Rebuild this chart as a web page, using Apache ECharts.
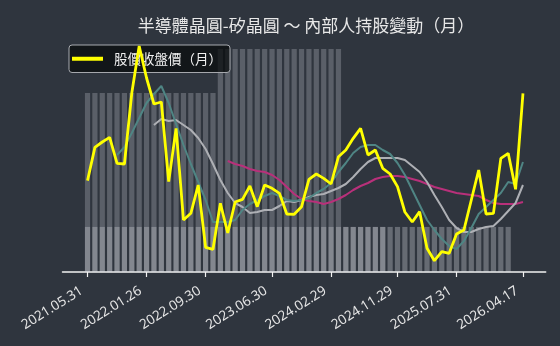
<!DOCTYPE html>
<html>
<head>
<meta charset="utf-8">
<script src="https://cdn.jsdelivr.net/npm/echarts@6/dist/echarts.min.js"></script>
<style>html,body{margin:0;padding:0;background:#2f353e;}#c{width:560px;height:346px;}</style>
</head>
<body>
<div id="c"></div>
<script>
// tick positions (month index) and their labels
const tickIndex = [0, 8, 16, 25, 33, 42, 50, 59];
const tickLabels = ['2021.05.31','2022.01.26','2022.09.30','2023.06.30','2024.02.29','2024.11.29','2025.07.31','2026.04.17'];

// monthly closing price (index 0..59)
const price = [374,474,490,504,426,424,637,778,682,604,610,371,531,256,276,361,174,168,306,217,
               310,318,358,296,361,351,336,274,273,296,378,394,381,364,446,466,501,531,451,466,
               411,394,356,280,250,281,171,134,161,156,214,226,316,406,274,276,441,456,348,636];
// moving averages (null = not drawn)
const ma5 = [null,null,null,null,451,475,517,562,607,634,658,607,544,481,424,370,316,250,250,250,
             256,286,304,316,328,337,328,316,313,316,322,337,349,367,400,427,457,475,481,481,
             466,454,427,391,346,301,256,226,199,178,169,193,232,274,295,316,337,370,364,430];
const ma10 = [null,null,null,null,null,null,null,null,null,541,559,553,556,541,526,502,469,424,376,337,
              307,295,277,280,286,286,298,313,310,316,325,331,334,343,352,364,385,409,430,442,
              442,442,442,436,418,400,370,331,295,256,232,220,220,229,235,238,259,283,307,361];
const ma20 = [null,null,null,null,null,null,null,null,null,null,null,null,null,null,null,null,null,null,null,433,
              424,418,409,403,400,391,376,355,334,319,313,310,304,310,319,331,346,358,367,379,
              385,388,388,385,379,373,364,355,349,343,337,334,331,328,316,307,304,304,304,310];
// insider holdings (%) : large holders and directors
const holdTotal = [38.9,38.9,38.9,38.9,38.9,38.9,38.9,38.9,38.9,38.9,38.9,38.9,38.9,38.9,38.9,38.9,38.9,38.9,
                   48.5,48.5,48.5,48.5,48.5,48.5,48.5,48.5,48.5,48.5,48.5,48.5,48.5,48.5,48.5,48.5,48.5,
                   9.8,9.8,9.8,9.8,9.8,9.8];
const holdDirector = [9.8,9.8,9.8,9.8,9.8,9.8,9.8,9.8,9.8,9.8,9.8,9.8,9.8,9.8,9.8,9.8,9.8,9.8,9.8,9.8,
                      9.8,9.8,9.8,9.8,9.8,9.8,9.8,9.8,9.8,9.8,9.8,9.8,9.8,9.8,9.8,9.8,9.8,9.8,9.8,9.8,
                      9.8,9.8,9.8,9.8,9.8,9.8,9.8,9.8,9.8,9.8,9.8,9.8,9.8,9.8,9.8,9.8,9.8,9.8];

const pairs = arr => arr.map((v, i) => [i, v]);
const labelMap = {};
tickIndex.forEach((t, k) => labelMap[t] = tickLabels[k]);

const chart = echarts.init(document.getElementById('c'));
chart.setOption({
  backgroundColor: '#2f353e',
  animation: false,
  title: {
    text: '半導體晶圓-矽晶圓 ～ 內部人持股變動（月）',
    left: 306, top: 17, textAlign: 'center', padding: 0,
    textStyle: { color: '#e8e8e8', fontSize: 17, fontWeight: 'normal', fontFamily: 'Noto Sans CJK TC' }
  },
  legend: {
    data: ['股價收盤價（月）'],
    left: 69, top: 45,
    icon: 'rect', itemWidth: 31, itemHeight: 4, itemGap: 10,
    padding: [7, 8, 7, 3],
    backgroundColor: 'rgba(10,12,14,0.75)',
    borderColor: '#a8abb0', borderWidth: 1, borderRadius: 3,
    textStyle: { color: '#f0f0f0', fontSize: 13.5, fontFamily: 'Noto Sans CJK TC', padding: [0, 0, 0, 6] }
  },
  grid: { left: 62.5, right: 14.3, top: 42, bottom: 74 },
  xAxis: {
    type: 'value', min: -3.39, max: 62.08,
    axisLine: { show: true, lineStyle: { color: '#f2f2f2', width: 1.5 } },
    axisTick: { show: true, customValues: tickIndex, length: 5, lineStyle: { color: '#f2f2f2', width: 1.2 } },
    axisLabel: {
      customValues: tickIndex, rotate: 32, color: '#e6e6e6', fontSize: 13.5, margin: 14,
      padding: [0, 7, 0, 0],
      fontFamily: 'Noto Sans',
      formatter: v => labelMap[Math.round(v)] || ''
    },
    splitLine: { show: false }
  },
  yAxis: [
    { type: 'value', min: 100, max: 790, show: false, splitLine: { show: false } },
    { type: 'value', min: 0, max: 50, show: false, splitLine: { show: false } }
  ],
  series: [
    { name: '大股東持股', type: 'bar', yAxisIndex: 1, data: pairs(holdTotal), barWidth: 5.2,
      itemStyle: { color: 'rgba(215,218,224,0.26)' }, z: 1, silent: true },
    { name: '董監持股', type: 'bar', yAxisIndex: 1, data: pairs(holdDirector), barWidth: 5.2, barGap: '-100%',
      itemStyle: { color: 'rgba(215,218,224,0.33)' }, z: 1, silent: true },
    { name: 'MA20', type: 'line', data: pairs(ma20), showSymbol: false, symbol: 'none',
      lineStyle: { color: '#b8307a', width: 2 }, z: 3 },
    { name: 'MA10', type: 'line', data: pairs(ma10), showSymbol: false, symbol: 'none',
      lineStyle: { color: '#aeb0b5', width: 2 }, z: 3 },
    { name: 'MA5', type: 'line', data: pairs(ma5), showSymbol: false, symbol: 'none',
      lineStyle: { color: '#4f8584', width: 2 }, z: 3 },
    { name: '股價收盤價（月）', type: 'line', data: pairs(price), showSymbol: false, symbol: 'none',
      itemStyle: { color: '#ffff00' },
      lineStyle: { color: '#ffff00', width: 2.8 }, z: 5 }
  ]
});
</script>
</body>
</html>
